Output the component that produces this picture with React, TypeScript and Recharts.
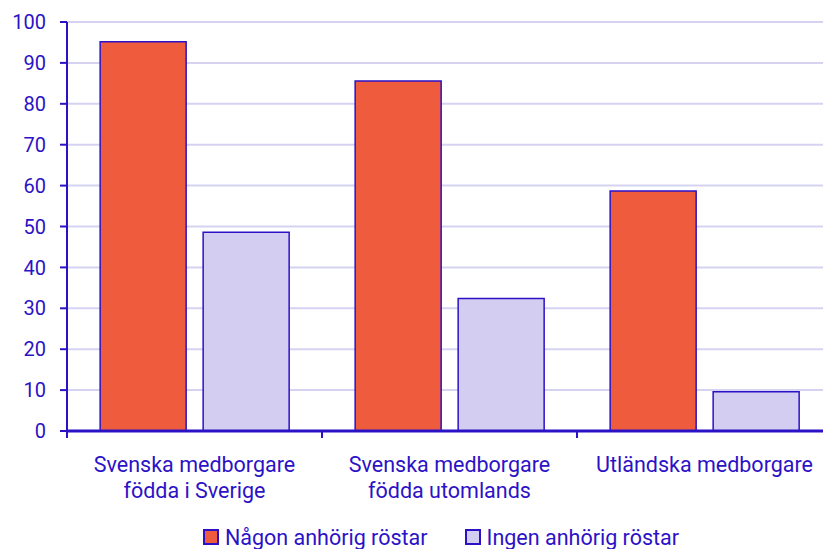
import React from "react";
import { BarChart, Bar, XAxis, YAxis, CartesianGrid, Legend } from "recharts";

const categories = ["Svenska medborgare\nfödda i Sverige", "Svenska medborgare\nfödda utomlands", "Utländska medborgare"];
const nagon = [95.2, 85.6, 58.7];
const ingen = [48.6, 32.4, 9.6];
const yTicks = [0, 10, 20, 30, 40, 50, 60, 70, 80, 90, 100];
const seriesNames = ["Någon anhörig röstar", "Ingen anhörig röstar"];

const BLUE = "#2c12c6";
const RED = "#ee5b3d";
const LAV = "#d2cdf1";
const GRID = "#d6d3f2";
const FONT = "Roboto, sans-serif";

const data = categories.map((c, i) => ({ cat: c, a: nagon[i], b: ingen[i] }));

const XTick = (props: any) => {
  const { x, y, payload, index } = props;
  const half = payload && typeof payload.offset === "number" && payload.offset > 0 ? payload.offset : 127.5;
  const lines = String(payload.value).split("\n");
  return (
    <g>
      <line x1={x - half} x2={x - half} y1={y} y2={y + 7} stroke={BLUE} strokeWidth={2} />
      {index === categories.length - 1 && (
        <line x1={x + half} x2={x + half} y1={y} y2={y + 7} stroke={BLUE} strokeWidth={2} />
      )}
      {lines.map((l, i) => (
        <text key={i} x={x} y={y + 41 + i * 26} textAnchor="middle" fill={BLUE} fontSize={21.5} fontFamily={FONT}>
          {l}
        </text>
      ))}
    </g>
  );
};

const LegendContent = () => (
  <div style={{ height: 38, display: "flex", justifyContent: "center", alignItems: "center", paddingTop: 14, boxSizing: "border-box", fontFamily: FONT, fontSize: 21.5, color: BLUE, paddingLeft: 50 }}>
    {seriesNames.map((n, i) => (
      <div key={n} style={{ display: "flex", alignItems: "center", marginRight: i === 0 ? 37 : 0 }}>
        <div style={{ width: 12, height: 12, background: i === 0 ? RED : LAV, border: `2px solid ${BLUE}`, marginRight: 6 }} />
        <span>{n}</span>
      </div>
    ))}
  </div>
);

export default function App() {
  return (
    <div style={{ position: "absolute", left: 0, top: 0, width: 823, height: 549, overflow: "hidden", background: "#fff" }}>
      <BarChart width={832} height={549} data={data} margin={{ top: 22, right: 0, bottom: 0, left: 0 }} barCategoryGap="13%" barGap={17}>
        <CartesianGrid vertical={false} stroke={GRID} strokeWidth={2} />
        <XAxis
          dataKey="cat"
          height={80}
          tickLine={false}
          tickSize={0}
          tickMargin={0}
          axisLine={{ stroke: BLUE, strokeWidth: 3 }}
          tick={<XTick />}
          interval={0}
        />
        <YAxis
          width={67}
          domain={[0, 100]}
          ticks={yTicks}
          interval={0}
          axisLine={{ stroke: BLUE, strokeWidth: 2 }}
          tickLine={{ stroke: BLUE, strokeWidth: 2 }}
          tickSize={7}
          tickMargin={14}
          tick={{ fill: BLUE, fontSize: 20, fontFamily: FONT }}
        />
        <Legend verticalAlign="bottom" height={38} content={<LegendContent />} />
        <Bar dataKey="a" name={seriesNames[0]} fill={RED} stroke={BLUE} strokeWidth={1.5} isAnimationActive={false} />
        <Bar dataKey="b" name={seriesNames[1]} fill={LAV} stroke={BLUE} strokeWidth={1.5} isAnimationActive={false} />
      </BarChart>
    </div>
  );
}
